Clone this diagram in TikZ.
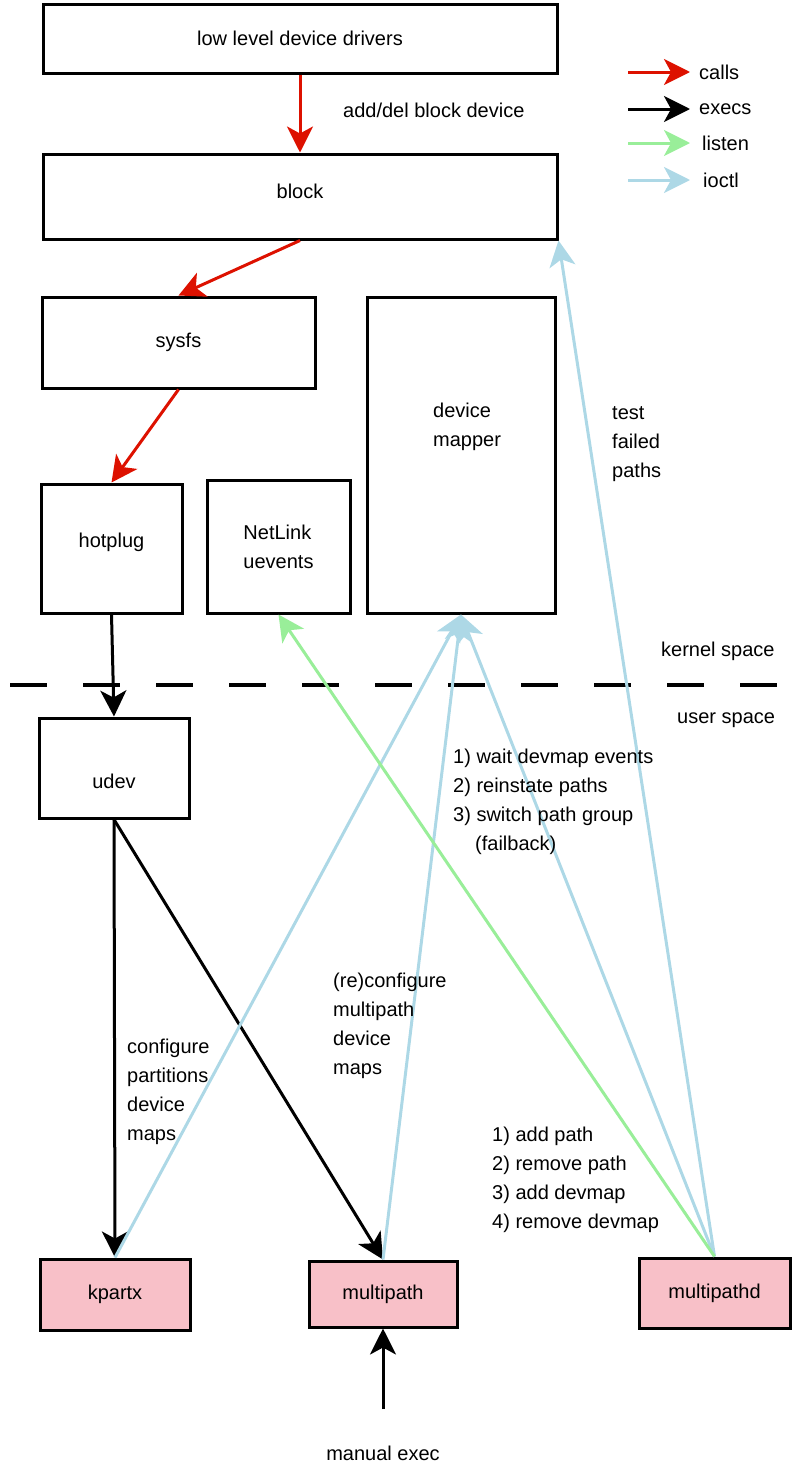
\documentclass[tikz,border=0pt]{standalone}
\usepackage{fontspec}
\setmainfont{Liberation Sans}
\usetikzlibrary{arrows.meta,positioning}
\definecolor{callcol}{RGB}{221,17,0}
\definecolor{listencol}{RGB}{153,238,153}
\definecolor{ioctlcol}{RGB}{173,216,230}
\definecolor{toolcol}{RGB}{248,192,200}

\begin{document}
\begin{tikzpicture}[x=1pt,y=-1pt,
  every node/.style={font=\fontsize{20}{29}\selectfont},
  every label/.style={font=\fontsize{20}{29}\selectfont,inner sep=0pt},
  box/.style={draw,line width=3pt,inner sep=0pt},
  tool/.style={box,fill=toolcol},
  txt/.style={align=left,anchor=west,inner sep=0pt},
  con/.style={line width=3pt,-{Stealth[length=26pt,width=26pt,inset=7pt]}},
  calls/.style={con,callcol},
  execs/.style={con,black},
  listen/.style={con,listencol},
  ioctl/.style={con,ioctlcol}]
\useasboundingbox (0,0) rectangle (793,1467);
% kernel side
\node[box,minimum width=514,minimum height=69] (lld) at (300,38.5) {low level device drivers};
\node[box,minimum width=514,minimum height=85,label={[yshift=5pt]center:block}] (block) at (300,196.5) {};
\node[box,minimum width=273,minimum height=91] (sysfs) at (178.5,342.5) {sysfs};
\node[box,minimum width=141,minimum height=129,label={[yshift=6pt]center:hotplug}] (hotplug) at (111.5,548.5) {};
\node[box,align=left,minimum width=143,minimum height=133] (netlink) at (278.5,546.5) {NetLink\\uevents};
\node[box,minimum width=188,minimum height=316] (dm) at (461,455) {};
\node[txt] (dmtxt) at (433,427) {device\\mapper};
% user side
\node[box,minimum width=150,minimum height=100,label={[yshift=-13pt]center:udev}] (udev) at (114,768) {};
\node[tool,minimum width=150,minimum height=71] (kpartx) at (115,1294.5) {kpartx};
\node[tool,minimum width=148,minimum height=66] (multipath) at (383,1294) {multipath};
\node[tool,minimum width=151,minimum height=70] (multipathd) at (714.5,1293) {multipathd};
\node (manual) at (383,1453) {manual exec};

\draw[line width=3.5pt,dash pattern=on 37pt off 36pt] (10,685) -- (780,685);
\node[txt] (kspace) at (661,651) {kernel space};
\node[txt] (uspace) at (677,720) {user space};

\draw[calls] (lld.south) -- (block.north);
\draw[calls] (block.south) -- (sysfs.north);
\draw[calls] (sysfs.south) -- (hotplug.north);
\draw[execs] (hotplug.south) -- (udev.north);
\draw[execs] (udev.south) -- (kpartx.north);
\draw[execs] (udev.south) -- (multipath.north);
\draw[execs] ([yshift=33pt]manual.north) -- (multipath.south);
\draw[ioctl] (kpartx.north) -- (dm.south);
\draw[ioctl] (multipath.north) -- (dm.south);
\draw[ioctl] (multipathd.north) -- (dm.south);
\draw[ioctl] (multipathd.north) -- (block.south east);
\draw[listen] (multipathd.north) -- (netlink.south);

\node[txt] (adddel) at (343,110) {add/del block device};
\node[txt] (testfp) at (612,444) {test\\failed\\paths};
\node[txt] (waitdm) at (453,802) {1) wait devmap events\\2) reinstate paths\\3) switch path group\\\hspace*{22pt}(failback)};
\node[txt] (reconf) at (333,1026) {(re)configure\\multipath\\device\\maps};
\node[txt] (confpart) at (127,1092) {configure\\partitions\\device\\maps};
\node[txt] (mpdops) at (492,1180) {1) add path\\2) remove path\\3) add devmap\\4) remove devmap};

% legend
\foreach \name/\yy/\xl in {calls/72/699,execs/109/699,listen/143/702,ioctl/180/703}{
  \coordinate (lg\name) at (628,\yy);
  \draw[\name] (lg\name) -- ++(62,0);
  \node[txt] (lt\name) at (\xl,\yy) {\name};
}
\end{tikzpicture}
\end{document}
